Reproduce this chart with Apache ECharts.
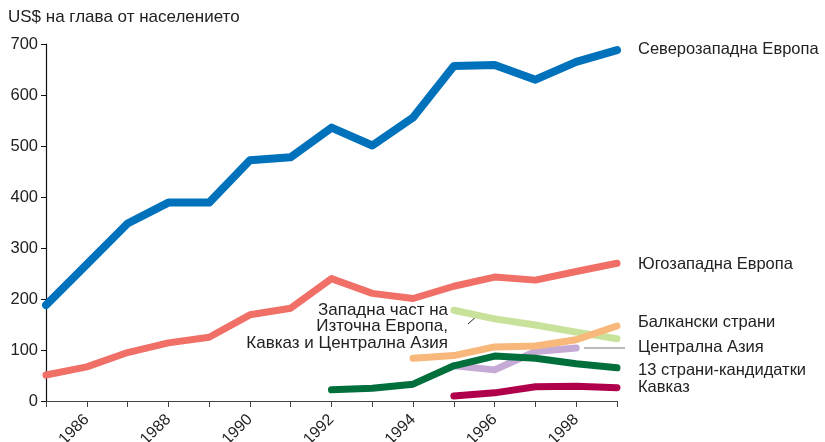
<!DOCTYPE html>
<html><head><meta charset="utf-8">
<script src="https://cdn.jsdelivr.net/npm/echarts@6/dist/echarts.min.js"></script>
<style>html,body{margin:0;padding:0;background:#fff}#c{width:825px;height:442px}</style>
</head><body><div id="c"></div>
<script>
const years = [1985,1986,1987,1988,1989,1990,1991,1992,1993,1994,1995,1996,1997,1998,1999];
const northwestEurope = [188,268,348,389,389,472,478,536,501,556,657,659,630,665,688];
const southwestEurope = [51,67,95,114,125,169,182,240,211,201,225,243,237,254,270];
const westEastEurope = [null,null,null,null,null,null,null,null,null,null,178,161,149,135,122];
const balkans = [null,null,null,null,null,null,null,null,null,84,89,106,108,120,147];
const centralAsia = [null,null,null,null,null,null,null,null,null,null,69,61,97,104,null];
const candidates13 = [null,null,null,null,null,null,null,22,25,33,69,88,84,73,65];
const caucasus = [null,null,null,null,null,null,null,null,null,null,10,16,28,29,26];
const yTicks = [0,100,200,300,400,500,600,700];
const font = 'Liberation Sans, Arial, sans-serif';

function pairs(arr){ return years.map((y,i)=>[y,arr[i]]); }
function line(name, arr, color, width){
  return {name, type:'line', data:pairs(arr), symbol:'none', connectNulls:false, silent:true,
    lineStyle:{color, width, cap:'round', join:'round'}, z:2};
}
const f = '16.5px ' + font;
const chart = echarts.init(document.getElementById('c'));
chart.setOption({
  animation:false,
  grid:{left:46, top:44, right:208, bottom:41, containLabel:false, outerBoundsMode:'none'},
  xAxis:{type:'value', min:1985, max:1999, interval:1,
    axisLine:{lineStyle:{color:'#444', width:1.2}},
    axisTick:{length:6, lineStyle:{color:'#444'}},
    splitLine:{show:false},
    axisLabel:{rotate:45, fontSize:16, fontFamily:font, color:'#222', margin:16,
      formatter:v=> (v%2===0 ? String(v) : '')}},
  yAxis:{type:'value', min:0, max:700, interval:100,
    axisLine:{show:true, lineStyle:{color:'#111', width:1.2}},
    axisTick:{show:true, length:5, lineStyle:{color:'#111'}},
    splitLine:{show:false},
    axisLabel:{fontSize:16.5, fontFamily:font, color:'#222', margin:8,
      formatter:v=> yTicks.includes(v) ? String(v) : ''}},
  series:[
    line('Централна Азия', centralAsia, '#C4AAD4', 7),
    line('Западна част на Източна Европа, Кавказ и Централна Азия', westEastEurope, '#C8E29B', 7),
    line('Балкански страни', balkans, '#F8B87B', 7),
    line('13 страни-кандидатки', candidates13, '#006F3B', 7),
    line('Кавказ', caucasus, '#B0004B', 7),
    line('Югозападна Европа', southwestEurope, '#F07067', 7),
    line('Северозападна Европа', northwestEurope, '#0072BC', 8)
  ],
  graphic:[
    {type:'text', x:8, y:9, style:{text:'US$ на глава от населението', font:'17px '+font, fill:'#222'}},
    {type:'text', x:638, y:41, style:{text:'Северозападна Европа', font:f, fill:'#222'}},
    {type:'text', x:638, y:256, style:{text:'Югозападна Европа', font:f, fill:'#222'}},
    {type:'text', x:638, y:314, style:{text:'Балкански страни', font:f, fill:'#222'}},
    {type:'text', x:638, y:339, style:{text:'Централна Азия', font:f, fill:'#222'}},
    {type:'text', x:638, y:362, style:{text:'13 страни-кандидатки', font:f, fill:'#222'}},
    {type:'text', x:638, y:379, style:{text:'Кавказ', font:f, fill:'#222'}},
    {type:'text', x:448, y:302, style:{text:'Западна част на\nИзточна Европа,\nКавказ и Централна Азия', font:'17px '+font, fill:'#222', align:'right', lineHeight:16.5}},
    {type:'line', shape:{x1:584, y1:348, x2:625, y2:348}, style:{stroke:'#777', lineWidth:1.2}},
    {type:'line', shape:{x1:468, y1:324, x2:478, y2:315}, style:{stroke:'#222', lineWidth:1}}
  ]
});
</script></body></html>
